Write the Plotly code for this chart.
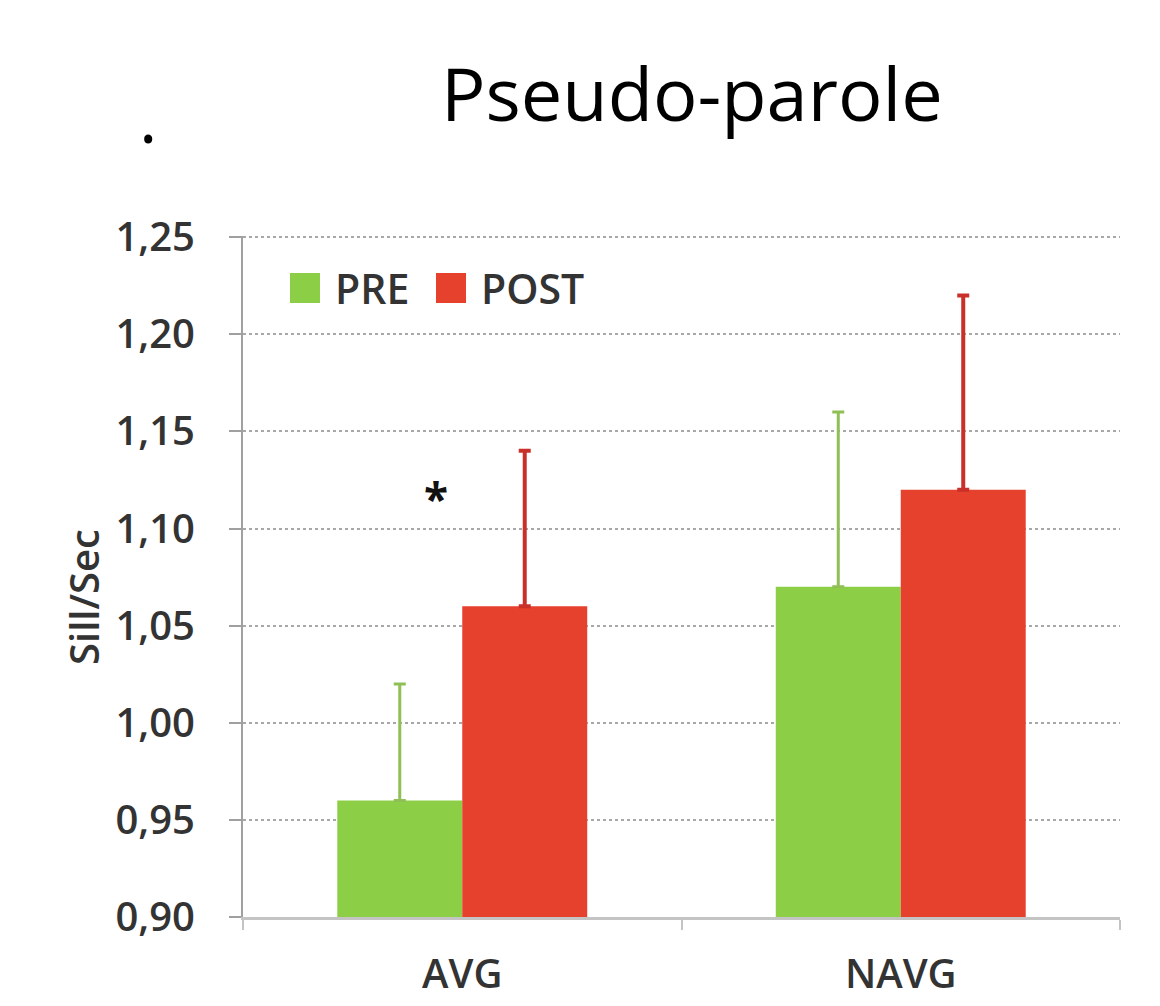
import plotly.graph_objects as go

categories = ["AVG", "NAVG"]
pre_values = [0.96, 1.07]
post_values = [1.06, 1.12]
pre_err = [0.06, 0.09]
post_err = [0.08, 0.10]
y_ticks = [0.90, 0.95, 1.00, 1.05, 1.10, 1.15, 1.20, 1.25]
series_names = ["PRE", "POST"]

GREEN = "#8ccf47"
RED = "#e5412d"
TXT = "#333333"
FONT = "Open Sans"

fig = go.Figure()
fig.add_trace(go.Bar(
    x=categories, y=pre_values, name=series_names[0],
    marker=dict(color=GREEN, line=dict(width=0)),
    error_y=dict(type="data", symmetric=False, array=pre_err, arrayminus=[0, 0],
                 color="#8fbf55", thickness=3, width=6),
    showlegend=False,
))
fig.add_trace(go.Bar(
    x=categories, y=post_values, name=series_names[1],
    marker=dict(color=RED, line=dict(width=0)),
    error_y=dict(type="data", symmetric=False, array=post_err, arrayminus=[0, 0],
                 color="#c9302a", thickness=4, width=6),
    showlegend=False,
))

L, R, T, B = 243, 40, 236, 89
W, H = 1160, 1006
pw = W - L - R
ph = H - T - B

def px(x):
    return (x - L) / pw

def py(y):
    return (H - B - y) / ph

shapes = [
    dict(type="rect", xref="paper", yref="paper", x0=px(290), x1=px(320), y0=py(303), y1=py(273),
         fillcolor=GREEN, line=dict(width=0)),
    dict(type="rect", xref="paper", yref="paper", x0=px(436), x1=px(466), y0=py(303), y1=py(273),
         fillcolor=RED, line=dict(width=0)),
]

annotations = [
    dict(text=series_names[0], xref="paper", yref="paper", x=px(333), y=py(288), xanchor="left", yanchor="middle",
         showarrow=False, font=dict(family=FONT, size=41, color=TXT, weight=600)),
    dict(text=series_names[1], xref="paper", yref="paper", x=px(479), y=py(288), xanchor="left", yanchor="middle",
         showarrow=False, font=dict(family=FONT, size=41, color=TXT, weight=600)),
    dict(text="*", x=categories[0], y=1.12, xshift=-26, yshift=-8, showarrow=False,
         font=dict(family=FONT, size=44, color="#111111", weight=700)),
    dict(text="Pseudo-parole", xref="paper", yref="paper", x=px(692), y=py(93), xanchor="center", yanchor="middle",
         showarrow=False, font=dict(family=FONT, size=74, color="#000000")),
    dict(text=".", xref="paper", yref="paper", x=px(148), y=py(116), xanchor="center", yanchor="middle",
         showarrow=False, font=dict(family=FONT, size=70, color="#000000")),
    dict(text="Sill/Sec", xref="paper", yref="paper", x=px(83), y=py(597), xanchor="center", yanchor="middle",
         textangle=-90, showarrow=False, font=dict(family=FONT, size=40, color=TXT, weight=600)),
]

fig.update_layout(
    width=W, height=H,
    margin=dict(l=L, r=R, t=T, b=B, pad=0, autoexpand=False),
    paper_bgcolor="white", plot_bgcolor="white",
    separators=",.",
    barmode="group", bargap=0.43, bargroupgap=0,
    shapes=shapes, annotations=annotations,
    font=dict(family=FONT, color=TXT),
    xaxis=dict(
        automargin=False,
        showgrid=False, showline=True, linecolor="#c4c4c4", linewidth=3,
        ticks="outside", tickson="boundaries", ticklen=10, tickcolor="#c4c4c4", tickwidth=2,
        tickfont=dict(family=FONT, size=40, color=TXT, weight=600),
        ticklabelstandoff=20,
    ),
    yaxis=dict(
        automargin=False,
        range=[0.90, 1.2506], tickvals=y_ticks, tickformat=".2f",
        showgrid=True, gridcolor="#a8a8a8", gridwidth=2, griddash="dot",
        showline=True, linecolor="#a0a0a0", linewidth=2,
        ticks="outside", ticklen=12, tickcolor="#a0a0a0", tickwidth=2,
        tickfont=dict(family=FONT, size=40, color=TXT, weight=600),
        ticklabelstandoff=26,
        zeroline=False,
    ),
)

fig.write_html("out.html")
